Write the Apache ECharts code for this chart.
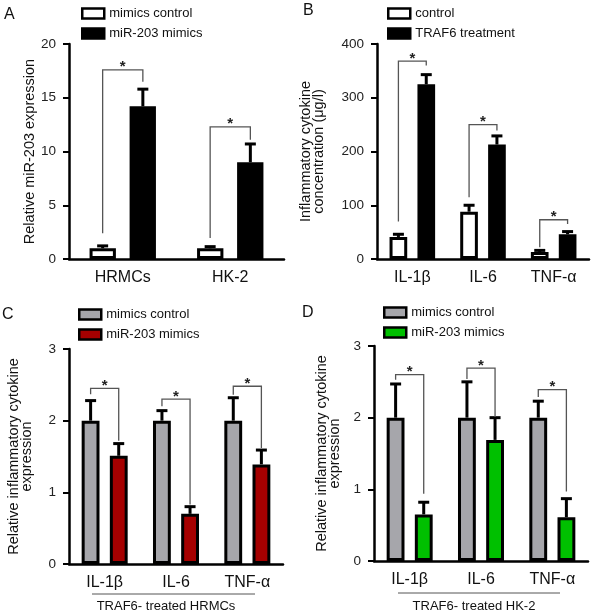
<!DOCTYPE html>
<html>
<head>
<meta charset="utf-8">
<script src="https://cdn.jsdelivr.net/npm/echarts@6/dist/echarts.min.js"></script>
<style>html,body{margin:0;padding:0;background:#fff;}#main{width:600px;height:616px;}</style>
</head>
<body>
<div id="main"></div>
<script>
// ---------- data ----------
const catsA = ['HRMCs', 'HK-2'];
const catsCyt = ['IL-1β', 'IL-6', 'TNF-α'];

const A_ctrl = [1.0, 1.0];
const A_ctrlErr = [0.22, 0.15];
const A_mim = [14.2, 9.0];
const A_mimErr = [1.6, 1.7];
const A_brk = [[0, 2.4, 17.6, 16.5], [1, 1.95, 12.3, 11.1]];

const B_ctrl = [41, 88, 13];
const B_ctrlErr = [5, 12, 3];
const B_trt = [325, 213, 46];
const B_trtErr = [18, 16, 5];
const B_brk = [[0, 70, 368, 360], [1, 115, 250, 239], [2, 22, 73, 65]];

const C_ctrl = [2.0, 2.0, 2.0];
const C_ctrlErr = [0.28, 0.14, 0.32];
const C_mim = [1.51, 0.70, 1.39];
const C_mimErr = [0.17, 0.10, 0.20];
const C_brk = [[0, 2.37, 2.45, 1.72], [1, 2.2, 2.3, 0.83], [2, 2.36, 2.48, 1.62]];

const D_ctrl = [2.0, 2.0, 2.0];
const D_ctrlErr = [0.47, 0.50, 0.23];
const D_mim = [0.65, 1.69, 0.61];
const D_mimErr = [0.17, 0.31, 0.26];
const D_brk = [[0, 2.53, 2.6, 0.94], [1, 2.54, 2.69, 2.01], [2, 2.29, 2.39, 0.97]];

const legendText = {
  A0: 'mimics control', A1: 'miR-203 mimics',
  B0: 'control', B1: 'TRAF6 treatment',
  C0: 'mimics control', C1: 'miR-203 mimics',
  D0: 'mimics control', D1: 'miR-203 mimics'
};

// ---------- helpers ----------
const FONT = '"Liberation Sans", Arial, Helvetica, sans-serif';
const GRAY = '#a6a6ab', RED = '#a50000', GREEN = '#00c000';

function errRender(frac) {
  return function (params, api) {
    const idx = api.value(0), v = api.value(1), e = api.value(2);
    const w = api.size([1, 0])[0];
    const b = api.coord([idx, v]);
    const t = api.coord([idx, v + e]);
    const x = b[0] + frac * w;
    return {
      type: 'group', children: [
        { type: 'line', shape: { x1: x, y1: b[1], x2: x, y2: t[1] }, style: { stroke: '#000', lineWidth: 3 } },
        { type: 'line', shape: { x1: x - 5.5, y1: t[1], x2: x + 5.5, y2: t[1] }, style: { stroke: '#000', lineWidth: 3 } }
      ]
    };
  };
}
function brkRender(frac) {
  return function (params, api) {
    const idx = api.value(0);
    const w = api.size([1, 0])[0];
    const pl = api.coord([idx, api.value(1)]);
    const pt = api.coord([idx, api.value(2)]);
    const pr = api.coord([idx, api.value(3)]);
    const xl = pl[0] - frac * w, xr = pl[0] + frac * w;
    return {
      type: 'group', children: [
        { type: 'polyline', shape: { points: [[xl, pl[1]], [xl, pt[1]], [xr, pt[1]], [xr, pr[1]]] },
          style: { stroke: '#555', lineWidth: 1.3, fill: null } },
        { type: 'text', style: { text: '*', x: (xl + xr) / 2, y: pt[1] + 5, align: 'center', verticalAlign: 'bottom',
          font: 'bold 15px ' + FONT, fill: '#222' } }
      ]
    };
  };
}
function xAxis(gi, cats) {
  return {
    type: 'category', gridIndex: gi, data: cats,
    axisLine: { lineStyle: { color: '#000', width: 2.5 } },
    axisTick: { alignWithLabel: true, length: 5, lineStyle: { color: '#000', width: 2 } },
    axisLabel: { fontSize: 16, color: '#111', fontFamily: FONT, margin: 11 }
  };
}
function yAxis(gi, max, interval, name, gap) {
  return {
    type: 'value', gridIndex: gi, min: 0, max: max, interval: interval,
    name: name, nameLocation: 'middle', nameGap: gap,
    nameTextStyle: { fontSize: 14.5, color: '#111', fontFamily: FONT, lineHeight: 13 },
    axisLine: { show: true, lineStyle: { color: '#000', width: 2.5 } },
    axisTick: { show: true, length: 6, lineStyle: { color: '#000', width: 2 } },
    axisLabel: { fontSize: 13.5, color: '#222', fontFamily: FONT, margin: 13 },
    splitLine: { show: false }
  };
}
function bar(name, gi, data, color, bw, gap) {
  return {
    type: 'bar', name: name, xAxisIndex: gi, yAxisIndex: gi, data: data,
    barWidth: bw, barGap: gap,
    itemStyle: { color: color, borderColor: '#000', borderWidth: 3 },
    emphasis: { disabled: true }, z: 2
  };
}
function errSeries(gi, vals, errs, frac) {
  return {
    type: 'custom', xAxisIndex: gi, yAxisIndex: gi, renderItem: errRender(frac),
    data: vals.map((v, i) => [i, v, errs[i]]), z: 3, silent: true
  };
}
function brkSeries(gi, brk, frac) {
  return {
    type: 'custom', xAxisIndex: gi, yAxisIndex: gi, renderItem: brkRender(frac),
    data: brk, z: 4, silent: true
  };
}
function legend(names, left, top) {
  return {
    data: names, left: left, top: top, orient: 'vertical', itemWidth: 22, itemHeight: 10, itemGap: 7,
    icon: 'rect', selectedMode: false,
    itemStyle: { borderColor: '#000', borderWidth: 2.5 },
    textStyle: { fontSize: 13, color: '#111', fontFamily: FONT },
    formatter: n => legendText[n]
  };
}

const bwA = '24.5%', gapA = '52%', fA = 0.187;
const bwB = '25%', gapB = '58%', fB = 0.197;

const option = {
  animation: false,
  backgroundColor: '#fff',
  grid: [
    { left: 69, top: 44, width: 215, height: 215 },
    { left: 377, top: 44, width: 212, height: 215 },
    { left: 69, top: 349, width: 214, height: 215 },
    { left: 374, top: 346, width: 214, height: 215 }
  ],
  xAxis: [xAxis(0, catsA), xAxis(1, catsCyt), xAxis(2, catsCyt), xAxis(3, catsCyt)],
  yAxis: [
    yAxis(0, 20, 5, 'Relative miR-203 expression', 32),
    yAxis(1, 400, 100, 'Inflammatory cytokine\nconcentration (μg/l)', 52),
    yAxis(2, 3, 1, 'Relative inflammatory cytokine\nexpression', 36),
    yAxis(3, 3, 1, 'Relative inflammatory cytokine\nexpression', 33)
  ],
  legend: [
    legend(['A0', 'A1'], 76, 2),
    legend(['B0', 'B1'], 382, 2),
    legend(['C0', 'C1'], 73, 303),
    legend(['D0', 'D1'], 378, 301)
  ],
  series: [
    bar('A0', 0, A_ctrl, '#fff', bwA, gapA), bar('A1', 0, A_mim, '#000', bwA, gapA),
    errSeries(0, A_ctrl, A_ctrlErr, -fA), errSeries(0, A_mim, A_mimErr, fA), brkSeries(0, A_brk, fA),

    bar('B0', 1, B_ctrl, '#fff', bwB, gapB), bar('B1', 1, B_trt, '#000', bwB, gapB),
    errSeries(1, B_ctrl, B_ctrlErr, -fB), errSeries(1, B_trt, B_trtErr, fB), brkSeries(1, B_brk, fB),

    bar('C0', 2, C_ctrl, GRAY, bwB, gapB), bar('C1', 2, C_mim, RED, bwB, gapB),
    errSeries(2, C_ctrl, C_ctrlErr, -fB), errSeries(2, C_mim, C_mimErr, fB), brkSeries(2, C_brk, fB),

    bar('D0', 3, D_ctrl, GRAY, bwB, gapB), bar('D1', 3, D_mim, GREEN, bwB, gapB),
    errSeries(3, D_ctrl, D_ctrlErr, -fB), errSeries(3, D_mim, D_mimErr, fB), brkSeries(3, D_brk, fB)
  ],
  graphic: [
    { type: 'text', left: 4, top: 7, style: { text: 'A', font: '16px ' + FONT, fill: '#111' } },
    { type: 'text', left: 303, top: 3, style: { text: 'B', font: '16px ' + FONT, fill: '#111' } },
    { type: 'text', left: 2, top: 307, style: { text: 'C', font: '16px ' + FONT, fill: '#111' } },
    { type: 'text', left: 302, top: 305, style: { text: 'D', font: '16px ' + FONT, fill: '#111' } },
    { type: 'line', shape: { x1: 92, y1: 594, x2: 255, y2: 594 }, style: { stroke: '#555', lineWidth: 1 } },
    { type: 'line', shape: { x1: 398, y1: 593, x2: 560, y2: 593 }, style: { stroke: '#555', lineWidth: 1 } },
    { type: 'text', x: 166, y: 606, style: { text: 'TRAF6- treated HRMCs', font: '13px ' + FONT, fill: '#111', align: 'center', verticalAlign: 'middle' } },
    { type: 'text', x: 474, y: 606, style: { text: 'TRAF6- treated HK-2', font: '13px ' + FONT, fill: '#111', align: 'center', verticalAlign: 'middle' } }
  ]
};
const chart = echarts.init(document.getElementById('main'), null, { renderer: 'canvas' });
chart.setOption(option);
</script>
</body>
</html>
